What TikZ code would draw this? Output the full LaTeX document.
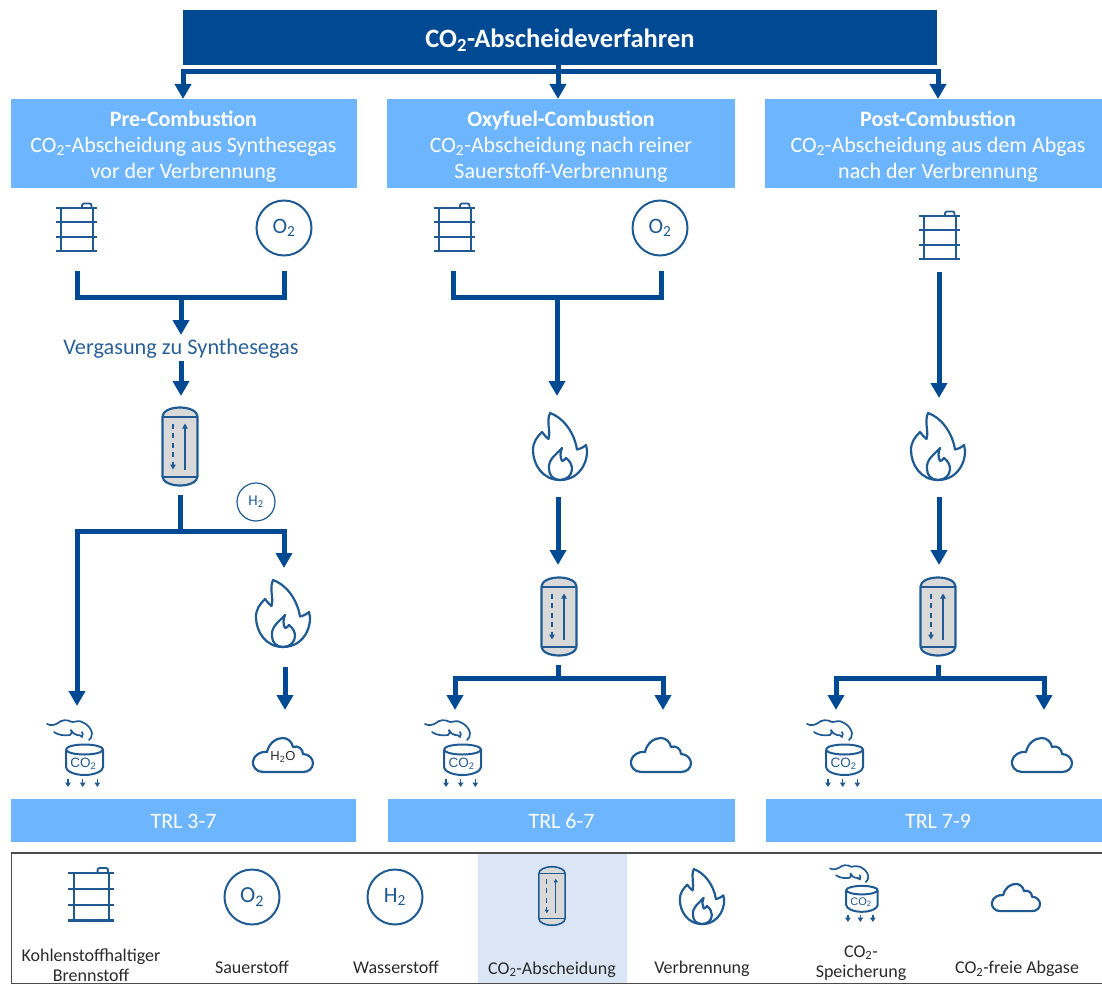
\documentclass[tikz,border=0pt]{standalone}
\usepackage{fontspec}
\setmainfont{Carlito}
\newfontfamily\arial{Liberation Sans}
\usetikzlibrary{arrows.meta}
\definecolor{navy}{HTML}{004A93}
\definecolor{sky}{HTML}{6DB6FF}
\definecolor{ico}{HTML}{1F5A93}
\definecolor{pale}{HTML}{DAE6F5}
\definecolor{txt}{HTML}{2A2A2A}
\definecolor{gas}{HTML}{2A6099}
\tikzset{
  flow/.style={draw=navy,line width=5pt},
  flowa/.style={flow,-{Triangle[width=16pt,length=15pt]}},
  bgbox/.style={fill=sky,inner sep=0pt,anchor=north west},
  headtxt/.style={text=white,font=\fontsize{22}{26}\selectfont,align=center,inner sep=0pt},
  trltxt/.style={text=white,font=\fontsize{22}{24}\selectfont,inner sep=0pt},
  legtxt/.style={text=txt,font=\fontsize{18}{20.5}\selectfont,align=center,inner sep=0pt},
  ring/.style={draw=ico,line width=2pt,circle,minimum size=55pt,inner sep=0pt,text=ico,font=\fontsize{22}{24}\selectfont},
  tanktxt/.style={text=ico,font=\fontsize{13.5}{14}\selectfont\arial,inner sep=0pt},
  icon/.style={draw=ico,line width=2pt,line join=round},
  colout/.style={icon,line width=2.2pt},
  colband/.style={icon},
  colarr/.style={icon,line width=1.5pt},
  colhead/.style={-{Triangle[width=5.5pt,length=5pt]}},
  barrel/.pic={
    \draw[icon,line width=2.2pt] (-20.5,-21)--(20.5,-21) (-20.5,-6.7)--(20.5,-6.7) (-20.5,8)--(20.5,8) (-20.5,22.3)--(20.5,22.3)
      (-15.3,-21)--(-15.3,22.3) (16.7,-21)--(16.7,22.3);
    \draw[icon,line width=1.8pt,rounded corners=2pt] (6,-21)--(6,-25.5)--(15.5,-25.5)--(15.5,-21);
  },
  column/.pic={
    \fill[gray!30] (-17.5,-30) .. controls (-17.5,-35) and (-10,-39) .. (0,-39) .. controls (10,-39) and (17.5,-35) .. (17.5,-30)
      -- (17.5,30) .. controls (17.5,35) and (10,39) .. (0,39) .. controls (-10,39) and (-17.5,35) .. (-17.5,30) -- cycle;
    \draw[colout] (-17.5,-30) .. controls (-17.5,-35) and (-10,-39) .. (0,-39) .. controls (10,-39) and (17.5,-35) .. (17.5,-30)
      -- (17.5,30) .. controls (17.5,35) and (10,39) .. (0,39) .. controls (-10,39) and (-17.5,35) .. (-17.5,30) -- cycle;
    \draw[colband] (-17.5,-30)--(17.5,-30) (-17.5,30)--(17.5,30);
    \draw[colarr,colhead,dash pattern=on 5pt off 4.5pt] (-7,-23)--(-7,23);
    \draw[colarr,colhead] (5,23)--(5,-23);
  },
  flame/.pic={
    \draw[icon,line width=2.2pt] (-10,-34) .. controls (2,-30) and (14,-16) .. (17,2.5) .. controls (20,2) and (24,0) .. (26,-2)
      .. controls (30,10) and (22,33) .. (0,33) .. controls (-17,33) and (-27,18) .. (-27,3)
      .. controls (-27,-5) and (-23,-10) .. (-18,-15) .. controls (-16,-12) and (-14,-10) .. (-11.5,-8)
      .. controls (-9,-16) and (-14,-25) .. (-10,-34) -- cycle;
    \draw[icon,line width=2.2pt] (0,33) .. controls (-7,33) and (-11,28) .. (-11,22) .. controls (-12,12) and (-4,8) .. (2,1)
      .. controls (0,6) and (0,10) .. (2,14) .. controls (3,14) and (5,13) .. (6,11)
      .. controls (10,14) and (12,18) .. (12,22) .. controls (12,28) and (7,33) .. (0,33) -- cycle;
  },
  cloud/.pic={
    \draw[icon,line width=2.2pt] (-20,17) .. controls (-27,17) and (-31,11) .. (-30,6) .. controls (-29,0) and (-22,-4) .. (-16,-3)
      .. controls (-14,-12) and (-7,-17) .. (0,-17) .. controls (5,-17) and (9,-13) .. (10,-8)
      .. controls (15,-10) and (20,-6) .. (20,-1) .. controls (26,-1) and (30,4) .. (30,8)
      .. controls (30,13) and (26,17) .. (20,17) -- cycle;
  },
  smoke/.pic={
    \draw[icon,line width=1.7pt,line cap=round] (-37,-33) .. controls (-33,-31) and (-29,-32) .. (-26,-34)
      .. controls (-23,-37) and (-17,-38) .. (-12,-35) .. controls (-8,-35) and (-5,-37) .. (-2,-35)
      .. controls (3,-33) and (7,-29) .. (8,-24) .. controls (8,-21) and (7,-18) .. (5,-17);
    \draw[icon,line width=1.7pt,line cap=round] (-30,-25) .. controls (-26,-22) and (-20,-21) .. (-14,-22)
      .. controls (-12,-23) and (-12,-25) .. (-13,-27) .. controls (-11,-24) and (-9,-22) .. (-7,-22)
      .. controls (-5,-22) and (-3,-22) .. (-2,-20) .. controls (-1,-22) and (-1,-24) .. (-2,-25);
    \draw[icon] (-18,-7.5) arc[x radius=18.5,y radius=5,start angle=180,end angle=-180];
    \draw[icon] (-18,-7.5)--(-18,10) .. controls (-18,14) and (-10,18) .. (0.5,18) .. controls (11,18) and (19,14) .. (19,10)--(19,-7.5);
    \draw[icon,line width=1.4pt,-{Triangle[width=5.5pt,length=4.5pt]}] (-16,22)--(-16,30);
    \draw[icon,line width=1.4pt,-{Triangle[width=5.5pt,length=4.5pt]}] (-1.3,22)--(-1.3,30);
    \draw[icon,line width=1.4pt,-{Triangle[width=5.5pt,length=4.5pt]}] (13.3,22)--(13.3,30);
  },
}
\begin{document}
\begin{tikzpicture}[x=1pt,y=-1pt]
\useasboundingbox (0,0) rectangle (1102,984);
% title and boxes
\node[fill=navy,inner sep=0pt,minimum width=754pt,minimum height=55pt,anchor=north west] (title) at (183,10) {};
\node[text=white,font=\fontsize{26.5}{28}\selectfont\bfseries,inner sep=0pt] (titletxt) at (560,40.5) {CO\textsubscript{2}-Abscheideverfahren};
\node[bgbox,minimum width=346pt,minimum height=89pt] (pre) at (11,99) {};
\node[headtxt] (pretxt) at (183.5,147) {\textbf{Pre-Combustion}\\CO\textsubscript{2}-Abscheidung aus Synthesegas\\vor der Verbrennung};
\node[bgbox,minimum width=348pt,minimum height=89pt] (oxy) at (387,99) {};
\node[headtxt] (oxytxt) at (561,147) {\textbf{Oxyfuel-Combustion}\\CO\textsubscript{2}-Abscheidung nach reiner\\Sauerstoff-Verbrennung};
\node[bgbox,minimum width=337pt,minimum height=89pt] (post) at (765,99) {};
\node[headtxt] (posttxt) at (938,147) {\textbf{Post-Combustion}\\CO\textsubscript{2}-Abscheidung aus dem Abgas\\nach der Verbrennung};
\node[bgbox,minimum width=345pt,minimum height=43pt] (t1) at (11,799) {};
\node[trltxt] (t1txt) at (183.5,821.5) {TRL 3-7};
\node[bgbox,minimum width=347pt,minimum height=43pt] (t2) at (388,799) {};
\node[trltxt] (t2txt) at (561.5,821.5) {TRL 6-7};
\node[bgbox,minimum width=336pt,minimum height=43pt] (t3) at (766,799) {};
\node[trltxt] (t3txt) at (938,821.5) {TRL 7-9};
% top connectors
\coordinate (tA) at (183,72); \coordinate (tB) at (558,72); \coordinate (tC) at (938,72);
\draw[flow] (558,65) -- (tB);
\draw[flow] (180.5,72) -- (940.5,72);
\draw[flowa] (tA) -- (183,99);
\draw[flowa] (tB) -- (558,99);
\draw[flowa] (tC) -- (938,99);
% column 1
\pic at (76,229) {barrel};
\node[ring] (o1) at (284,228) {O\textsubscript{2}};
\pic at (180,446.5) {column};
\node[draw=ico,line width=1.2pt,circle,minimum size=38pt,inner sep=0pt,text=ico,font=\fontsize{15}{16}\selectfont] (h1) at (256,502) {H\textsubscript{2}};
\pic at (283,614) {flame};
\pic at (283,755) {cloud};
\node[text=txt,font=\fontsize{13}{14}\selectfont\arial,inner sep=0pt] (w) at (283,757) {H\textsubscript{2}O};
\pic at (84,757) {smoke};
\node[tanktxt] (s1) at (83.5,764) {CO\textsubscript{2}};
\coordinate (a1) at (77,271); \coordinate (b1) at (284,271); \coordinate (j1) at (181,297);
\draw[flow] (a1) -- (a1|-j1) -- (b1|-j1) -- (b1);
\node[text=gas,font=\fontsize{22.3}{24}\selectfont,inner sep=0pt] (verg) at (181,349) {Vergasung zu Synthesegas};
\draw[flowa] (j1) -- (181,335);
\draw[flowa] (181,361) -- (181,396);
\coordinate (j2) at (180,531);
\draw[flow] (180,495) -- (j2);
\draw[flow] (77,600) -- (77,531) -- (284,531) -- (284,550);
\draw[flowa] (77,600) -- (77,706);
\draw[flowa] (284,540) -- (284,568);
\draw[flowa] (285,667) -- (285,710);
% column 2
\pic at (454,229) {barrel};
\node[ring] (o2) at (660,228) {O\textsubscript{2}};
\coordinate (a2) at (453,271); \coordinate (b2) at (661,271); \coordinate (j3) at (557,297);
\draw[flow] (a2) -- (a2|-j3) -- (b2|-j3) -- (b2);
\draw[flowa] (j3) -- (557,396);
\pic at (560,447) {flame};
\draw[flowa] (558,497) -- (558,565);
\pic at (559,616.5) {column};
\coordinate (j4) at (558,678);
\draw[flow] (558,665) -- (j4);
\draw[flow] (455,695) -- (455,678) -- (663,678) -- (663,695);
\draw[flowa] (455,690) -- (455,710);
\draw[flowa] (663,690) -- (663,710);
\pic at (462,757) {smoke};
\node[tanktxt] (s2) at (461.5,764) {CO\textsubscript{2}};
\pic at (661,755) {cloud};
% column 3
\pic at (939,237) {barrel};
\draw[flowa] (939,272) -- (939,398);
\pic at (938,447) {flame};
\draw[flowa] (939,497) -- (939,565);
\pic at (938,616.5) {column};
\coordinate (j5) at (938,678);
\draw[flow] (938,665) -- (j5);
\draw[flow] (836,695) -- (836,678) -- (1044,678) -- (1044,695);
\draw[flowa] (836,690) -- (836,710);
\draw[flowa] (1044,690) -- (1044,710);
\pic at (844,757) {smoke};
\node[tanktxt] (s3) at (843.5,764) {CO\textsubscript{2}};
\pic at (1042,755) {cloud};
% legend
\fill[pale] (478,853) rectangle (627,984);
\draw[draw=black!70,line width=1.2pt] (1102,853) -- (11.5,853) -- (11.5,984) -- (1102,984);
\pic[scale=1.1] at (91,896) {barrel};
\node[ring,font=\fontsize{23}{24}\selectfont] (o3) at (252,897) {O\textsubscript{2}};
\node[ring,font=\fontsize{22}{24}\selectfont] (h3) at (395,897) {H\textsubscript{2}};
\pic[scale=.75,colout/.append style={line width=1.6pt},colband/.append style={line width=1.4pt},colarr/.append style={line width=1pt},colhead/.append style={-{Triangle[width=4pt,length=3.5pt]}}] at (552,896) {column};
\pic[scale=.82] at (702,897) {flame};
\pic[scale=.85] at (861.5,896.5) {smoke};
\node[tanktxt,font=\fontsize{11}{12}\selectfont\arial] (s4) at (861,902) {CO\textsubscript{2}};
\pic[scale=.8] at (1016,897.5) {cloud};
\node[legtxt] (l1) at (91,965) {Kohlenstoffhaltiger\\Brennstoff};
\node[legtxt] (l2) at (252,967) {Sauerstoff};
\node[legtxt] (l3) at (396,967) {Wasserstoff};
\node[legtxt] (l4) at (552,969.5) {CO\textsubscript{2}-Abscheidung};
\node[legtxt] (l5) at (702,969) {Verbrennung};
\node[legtxt] (l6) at (861,963) {CO\textsubscript{2}-\\Speicherung};
\node[legtxt] (l7) at (1017,969) {CO\textsubscript{2}-freie Abgase};
\end{tikzpicture}
\end{document}
